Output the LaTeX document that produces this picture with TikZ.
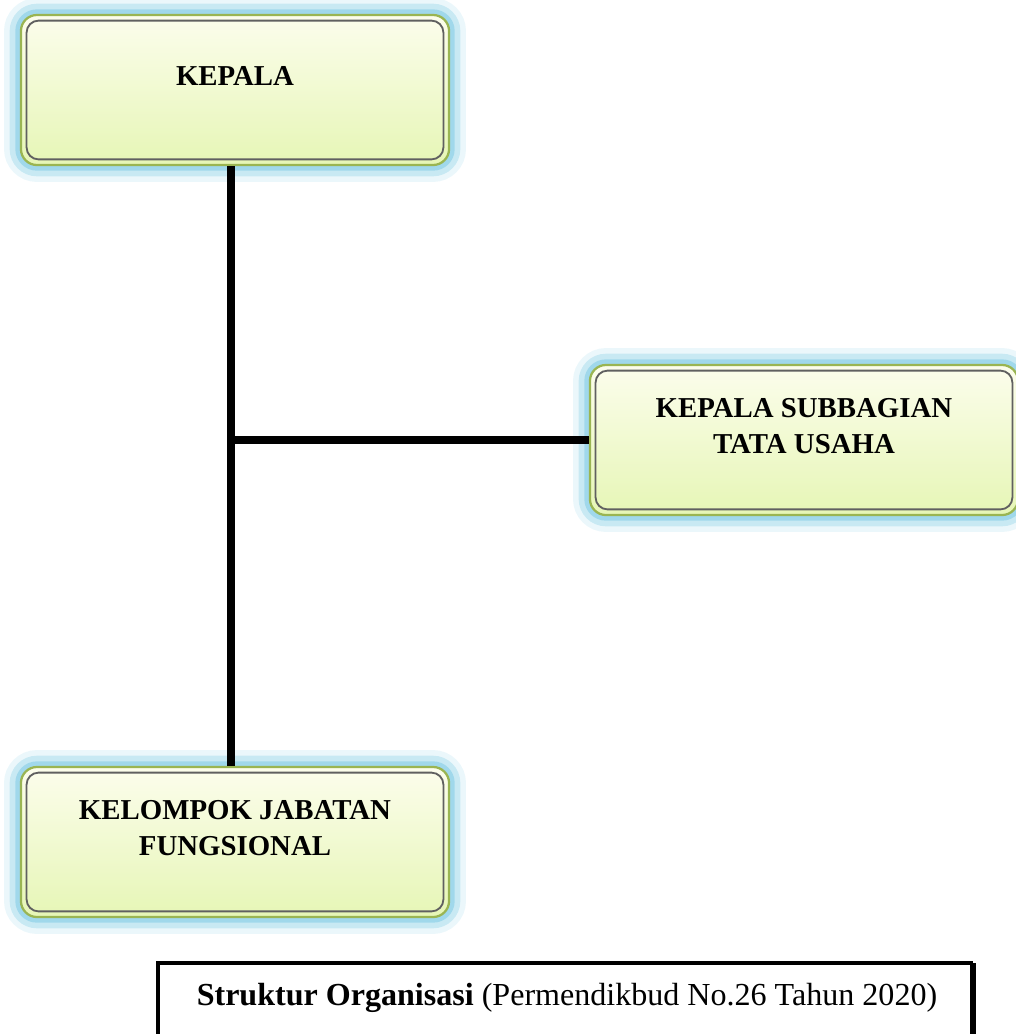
\documentclass[tikz,border=0pt]{standalone}
\usepackage{fontspec}
\setmainfont{Liberation Serif}
\usetikzlibrary{positioning}
\definecolor{boxtop}{HTML}{FCFDEC}
\definecolor{boxbot}{HTML}{E6F6B6}
\definecolor{boxrim}{HTML}{9AB552}
\definecolor{glowblue}{HTML}{78C8E2}
\tikzset{
  unitbox/.style={rounded corners=0.4cm, draw=boxrim, line width=1.6pt,
    top color=boxtop, bottom color=boxbot,
    minimum width=10.7cm, minimum height=3.75cm, align=center,
    font=\fontsize{20.5}{26}\selectfont\bfseries, text depth=20pt,
    preaction={draw=glowblue, line width=24pt, opacity=0.15},
    preaction={draw=glowblue, line width=16pt, opacity=0.3},
    preaction={draw=glowblue, line width=8pt, opacity=0.5},
    path picture={\draw[gray!75!black, line width=1.3pt, rounded corners=0.3cm]
      ([shift={(4pt,-4pt)}]path picture bounding box.north west) rectangle
      ([shift={(-4pt,4pt)}]path picture bounding box.south east);}},
  link/.style={line width=5.7pt, black}
}
\begin{document}
\begin{tikzpicture}[x=0.025cm, y=-0.025cm]
  \clip (0,0) rectangle (1016,1034);
  \node[unitbox] (kepala) at (235,90) {KEPALA};
  \node[unitbox] (subbag) at (804,440) {KEPALA SUBBAGIAN\\TATA USAHA};
  \node[unitbox] (fungsi) at (235,842) {KELOMPOK JABATAN\\FUNGSIONAL};
  \coordinate (cabang) at ([xshift=-2.5pt]kepala.south |- subbag.west);
  \draw[link] ([xshift=-2.5pt]kepala.south) -- ([xshift=-2.5pt]fungsi.north);
  \draw[link] (cabang) -- (subbag.west);
  \node[font=\fontsize{22.8}{28}\selectfont] (judul) at (567,998)
    {\textbf{Struktur Organisasi} (Permendikbud No.26 Tahun 2020)};
  \draw[line width=3.5pt] (158,1060) |- (973,963);
  \draw[line width=4.3pt] (973,963) -- (973,1060);
\end{tikzpicture}
\end{document}
